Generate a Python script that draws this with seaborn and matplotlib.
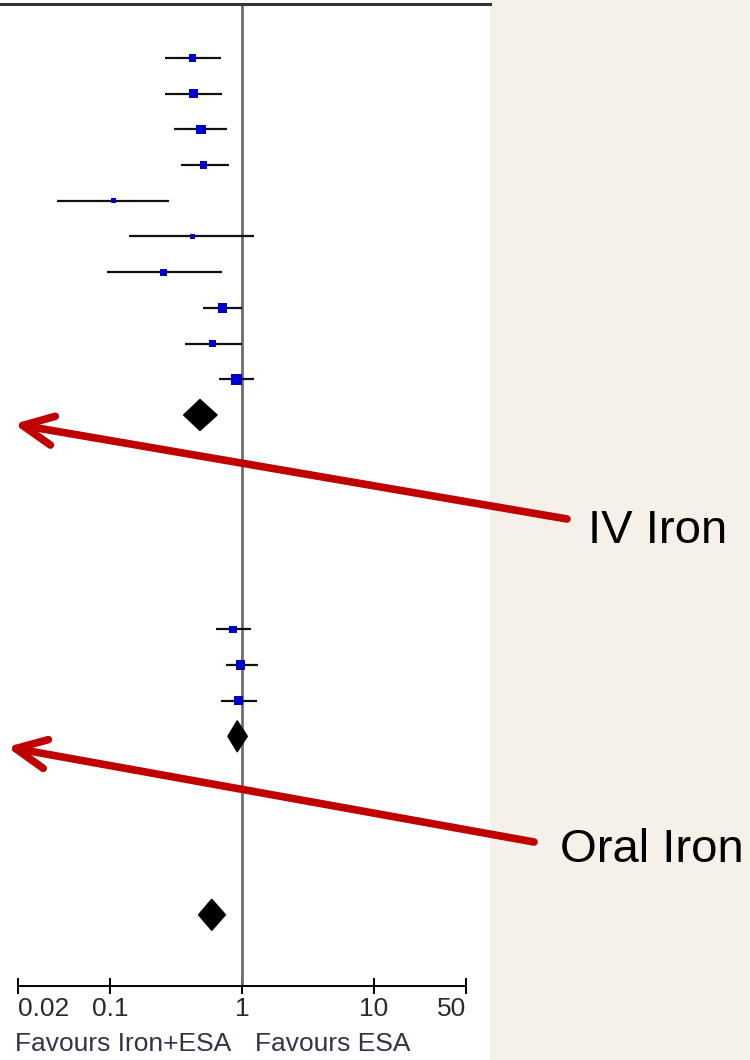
import numpy as np
import matplotlib
matplotlib.use("Agg")
import matplotlib.pyplot as plt
from matplotlib.patches import Rectangle, Polygon
import seaborn as sns

# ---------------- data ----------------
iv_est = [0.42, 0.43, 0.49, 0.51, 0.106, 0.42, 0.255, 0.71, 0.60, 0.91]
iv_lo = [0.26, 0.26, 0.305, 0.345, 0.040, 0.14, 0.095, 0.51, 0.37, 0.67]
iv_hi = [0.69, 0.71, 0.77, 0.80, 0.28, 1.23, 0.71, 1.00, 1.00, 1.23]
iv_weight = [6.0, 9.9, 9.9, 6.0, 3.0, 3.0, 6.0, 9.9, 6.0, 14.7]

oral_est = [0.855, 0.98, 0.94]
oral_lo = [0.64, 0.75, 0.69]
oral_hi = [1.18, 1.33, 1.29]
oral_weight = [6.0, 9.9, 9.9]

pooled_names = ["IV Iron", "Oral Iron", "Overall"]
pooled_est = [0.48, 0.92, 0.59]
pooled_lo = [0.36, 0.78, 0.467]
pooled_hi = [0.65, 1.10, 0.752]

tick_values = [0.02, 0.1, 1, 10, 50]
tick_labels = ["0.02", "0.1", "1", "10", "50"]
left_label = "Favours Iron+ESA"
right_label = "Favours ESA"
callouts = ["IV Iron", "Oral Iron"]

# ---------------- layout ----------------
W, H = 750, 1060
sns.set_style("white")
plt.rcParams["font.family"] = ["Liberation Sans", "DejaVu Sans"]

fig = plt.figure(figsize=(W / 100, H / 100), dpi=100)
fig.patch.set_facecolor("white")
fig.add_artist(Rectangle((490 / W, 0), (W - 490) / W, 1, transform=fig.transFigure,
                         facecolor="#F5F1E8", edgecolor="none", zorder=-10))

ax_top_px, ax_bot_px = 4, 986
ax = fig.add_axes([0, (H - ax_bot_px) / H, 490 / W, (ax_bot_px - ax_top_px) / H])
ax.set_facecolor("white")

px_per_dec = 132.0
x_one = 242.0
ax.set_xscale("log")
ax.set_xlim(10 ** (-x_one / px_per_dec), 10 ** ((490 - x_one) / px_per_dec))

row_px = 35.7
row0_px = 58
ax.set_ylim((ax_bot_px - row0_px) / row_px, -(row0_px - ax_top_px) / row_px)

# row positions
n_iv = len(iv_est)
iv_rows = np.arange(n_iv)
iv_pool_row = n_iv
oral_rows = np.arange(len(oral_est)) + iv_pool_row + 6
oral_pool_row = oral_rows[-1] + 1
overall_row = oral_pool_row + 5
pool_rows = [iv_pool_row, oral_pool_row, overall_row]

# reference line at 1
ax.axvline(1, color="#6e6e6e", lw=2.0, zorder=1)

# confidence intervals
study_rows = np.concatenate([iv_rows, oral_rows])
study_est = np.array(iv_est + oral_est)
study_lo = np.array(iv_lo + oral_lo)
study_hi = np.array(iv_hi + oral_hi)
study_w = np.array(iv_weight + oral_weight)
ax.hlines(study_rows, study_lo, study_hi, color="#111111", lw=1.6, zorder=2)

# weighted squares
side_px = 2.95 * np.sqrt(study_w)
sns.scatterplot(x=study_est, y=study_rows, marker="s", color="#0000CC",
                s=(side_px * 0.72) ** 2, linewidth=0, legend=False, ax=ax, zorder=3)

# pooled diamonds
half_h = 0.44
for r, e, lo, hi in zip(pool_rows, pooled_est, pooled_lo, pooled_hi):
    ax.add_patch(Polygon([(lo, r), (e, r - half_h), (hi, r), (e, r + half_h)],
                         closed=True, facecolor="black", edgecolor="black", lw=0.8, zorder=3))

# axes styling
for side in ["left", "right"]:
    ax.spines[side].set_visible(False)
ax.spines["top"].set_color("#333333")
ax.spines["top"].set_linewidth(2.2)
ax.spines["bottom"].set_color("black")
ax.spines["bottom"].set_linewidth(1.4)
ax.spines["bottom"].set_bounds(tick_values[0], tick_values[-1])
ax.set_yticks([])
ax.set_xticks(tick_values)
ax.xaxis.set_minor_locator(matplotlib.ticker.NullLocator())
ax.set_xticklabels(tick_labels)
ax.tick_params(axis="x", direction="inout", length=12, width=1.4, color="black",
               labelsize=19, labelcolor="#2b2b2b", pad=2, bottom=True)
lbls = ax.get_xticklabels()
lbls[0].set_ha("left")
lbls[-1].set_ha("right")
ax.set_xlabel("")
ax.set_ylabel("")

# bottom captions
fig.text(15 / W, (H - 1051) / H, left_label, fontsize=19, color="#33334a",
         ha="left", va="baseline")
fig.text(255 / W, (H - 1051) / H, right_label, fontsize=19, color="#33334a",
         ha="left", va="baseline")

# callouts with arrows
arrow_tails = [(567, 519), (534, 842)]
arrow_tips = [(14, 424), (7, 747)]
text_pos = [(588, 543), (560, 862)]
for name, tail, tip, tp in zip(callouts, arrow_tails, arrow_tips, text_pos):
    ax.annotate("", xy=(tip[0], H - tip[1]), xytext=(tail[0], H - tail[1]),
                xycoords="figure pixels", textcoords="figure pixels",
                arrowprops=dict(arrowstyle="->,head_length=22,head_width=10.5",
                                mutation_scale=1,
                                color="#C00000", lw=5.5, capstyle="round",
                                joinstyle="round", shrinkA=0, shrinkB=0),
                annotation_clip=False, zorder=10)
    fig.text(tp[0] / W, (H - tp[1]) / H, name, fontsize=34, color="black",
             ha="left", va="baseline")

fig.savefig("out.png", dpi=100, facecolor=fig.get_facecolor())
